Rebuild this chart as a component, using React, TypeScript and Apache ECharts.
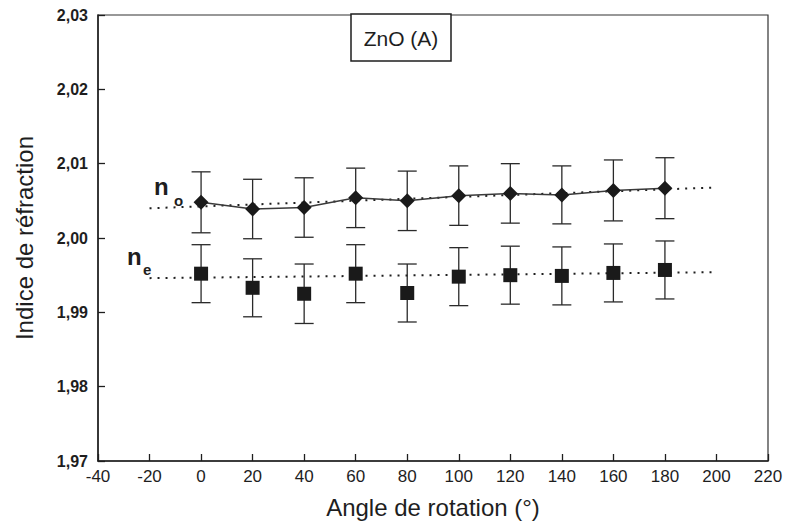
import React, { useEffect, useRef } from "react";
import * as echarts from "echarts";

const angles = [0, 20, 40, 60, 80, 100, 120, 140, 160, 180];
const noValues = [2.0048, 2.0039, 2.0041, 2.0054, 2.005, 2.0057, 2.006, 2.0058, 2.0064, 2.0067];
const noErrors = [0.0041, 0.004, 0.004, 0.004, 0.004, 0.004, 0.004, 0.0039, 0.0041, 0.0041];
const neValues = [1.9952, 1.9933, 1.9925, 1.9952, 1.9926, 1.9948, 1.995, 1.9949, 1.9953, 1.9957];
const neErrors = [0.0039, 0.0039, 0.004, 0.0039, 0.0039, 0.0039, 0.0039, 0.0039, 0.0039, 0.0039];
const noFit = [[-20, 2.004], [200, 2.0068]];
const neFit = [[-20, 1.9946], [200, 1.9954]];
const xTitle = "Angle de rotation (°)";
const yTitle = "Indice de réfraction";
const boxTitle = "ZnO (A)";

const FONT = "'Liberation Sans', Arial, sans-serif";
const INK = "#1e1e1e";

function errorRender(params: any, api: any) {
  const x = api.value(0);
  const lo = api.coord([x, api.value(1)]);
  const hi = api.coord([x, api.value(2)]);
  const w = 9.5;
  const style = { stroke: "#2a2a2a", lineWidth: 1.3 };
  return {
    type: "group",
    children: [
      { type: "line", shape: { x1: lo[0], y1: lo[1], x2: hi[0], y2: hi[1] }, style },
      { type: "line", shape: { x1: lo[0] - w, y1: lo[1], x2: lo[0] + w, y2: lo[1] }, style },
      { type: "line", shape: { x1: hi[0] - w, y1: hi[1], x2: hi[0] + w, y2: hi[1] }, style },
    ],
  };
}

export default function App() {
  const ref = useRef<HTMLDivElement>(null);
  useEffect(() => {
    if (!ref.current) return;
    const chart = echarts.init(ref.current, undefined, { renderer: "svg" });
    const noErr = angles.map((a, i) => [a, noValues[i] - noErrors[i], noValues[i] + noErrors[i]]);
    const neErr = angles.map((a, i) => [a, neValues[i] - neErrors[i], neValues[i] + neErrors[i]]);
    chart.setOption({
      animation: false,
      backgroundColor: "#ffffff",
      grid: {
        left: 98,
        right: 22,
        top: 15,
        bottom: 68,
        show: true,
        borderColor: "#333",
        borderWidth: 1.2,
        backgroundColor: "transparent",
      },
      xAxis: {
        type: "value",
        min: -40,
        max: 220,
        interval: 20,
        name: xTitle,
        nameLocation: "middle",
        nameGap: 34,
        nameTextStyle: { fontFamily: FONT, fontSize: 24, color: INK },
        axisLine: { show: true, onZero: false, lineStyle: { color: INK, width: 1.5 } },
        axisTick: { show: true, inside: true, length: 7, lineStyle: { color: INK, width: 1.3 } },
        axisLabel: { fontFamily: FONT, fontSize: 17, color: INK, margin: 7 },
        splitLine: { show: false },
      },
      yAxis: {
        type: "value",
        min: 1.97,
        max: 2.03,
        interval: 0.01,
        name: yTitle,
        nameLocation: "middle",
        nameGap: 62,
        nameTextStyle: { fontFamily: FONT, fontSize: 24, color: INK },
        axisLine: { show: true, onZero: false, lineStyle: { color: INK, width: 1.5 } },
        axisTick: { show: true, inside: true, length: 7, lineStyle: { color: INK, width: 1.3 } },
        axisLabel: {
          fontFamily: FONT,
          fontSize: 16,
          fontWeight: "bold",
          color: INK,
          margin: 10,
          formatter: (v: number) => v.toFixed(2).replace(".", ","),
        },
        splitLine: { show: false },
      },
      series: [
        {
          type: "line",
          data: noFit,
          symbol: "none",
          lineStyle: { color: INK, width: 2, type: [2, 6] },
          z: 2,
        },
        {
          type: "line",
          data: neFit,
          symbol: "none",
          lineStyle: { color: INK, width: 2, type: [2, 6] },
          z: 2,
        },
        { type: "custom", data: noErr, renderItem: errorRender, z: 3 },
        { type: "custom", data: neErr, renderItem: errorRender, z: 3 },
        {
          type: "line",
          data: angles.map((a, i) => [a, noValues[i]]),
          symbol: "diamond",
          symbolSize: 15,
          itemStyle: { color: "#1a1a1a", opacity: 1 },
          lineStyle: { color: "#3a3a3a", width: 1.5 },
          z: 4,
        },
        {
          type: "scatter",
          data: angles.map((a, i) => [a, neValues[i]]),
          symbol: "rect",
          symbolSize: 14,
          itemStyle: { color: "#1a1a1a", opacity: 1 },
          z: 4,
        },
      ],
      graphic: [
        {
          type: "rect",
          shape: { x: 351, y: 14, width: 100, height: 47 },
          style: { fill: "#fff", stroke: INK, lineWidth: 1.5 },
          z: 10,
        },
        {
          type: "text",
          x: 401,
          y: 38,
          style: {
            text: boxTitle,
            fontFamily: FONT,
            fontSize: 21,
            fill: INK,
            align: "center",
            verticalAlign: "middle",
          },
          z: 11,
        },
        {
          type: "text",
          x: 154,
          y: 186,
          style: { text: "n", fontFamily: FONT, fontSize: 24, fontWeight: "bold", fill: INK, align: "left", verticalAlign: "middle" },
          z: 11,
        },
        {
          type: "text",
          x: 174,
          y: 200,
          style: { text: "o", fontFamily: FONT, fontSize: 15, fontWeight: "bold", fill: INK, align: "left", verticalAlign: "middle" },
          z: 11,
        },
        {
          type: "text",
          x: 127,
          y: 256,
          style: { text: "n", fontFamily: FONT, fontSize: 24, fontWeight: "bold", fill: INK, align: "left", verticalAlign: "middle" },
          z: 11,
        },
        {
          type: "text",
          x: 143,
          y: 269,
          style: { text: "e", fontFamily: FONT, fontSize: 15, fontWeight: "bold", fill: INK, align: "left", verticalAlign: "middle" },
          z: 11,
        },
      ],
    });
    return () => chart.dispose();
  }, []);
  return (
    <div
      ref={ref}
      style={{ position: "absolute", left: 0, top: 0, width: 790, height: 529, background: "#fff" }}
    />
  );
}
